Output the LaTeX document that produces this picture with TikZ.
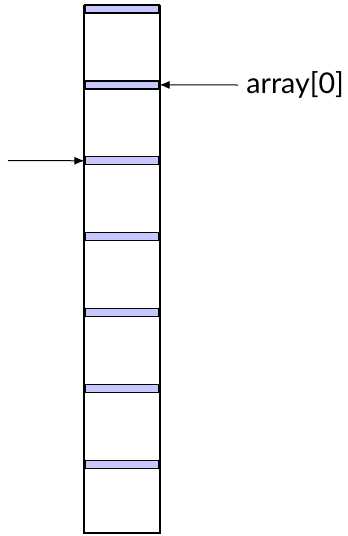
\documentclass[tikz,border=0pt]{standalone}
\usepackage{fontspec}
\setmainfont{Lato}
\usepackage{tikz}
\usetikzlibrary{arrows.meta, positioning}
\usepackage{xcolor}
\definecolor{hdrblue}{RGB}{200,200,255}

\begin{document}
\begin{tikzpicture}[x=0.5pt, y=-0.5pt,
    hdr/.style={draw=black, fill=hdrblue, line width=0.6pt, minimum width=37pt, minimum height=4pt, inner sep=0pt},
    ptr/.style={-{Latex[length=5pt, width=4pt]}, line width=0.5pt, black}]
  \useasboundingbox (0,0) rectangle (348,536);
  \foreach \i in {0,...,6} {
    \node[hdr] (h\i) at (122, 9+75.9*\i) {};
  }
  \draw[line width=1.3pt] (84,5) -- (84,533) -- (160,533) -- (160,5);
  \node[anchor=west, font=\fontsize{14.3}{16}\selectfont, inner sep=4pt] (lbl) at (238,85) {array[0]};
  \draw[ptr] (lbl.west) -- (h1.east);
  \coordinate (src) at (8,160.5);
  \draw[ptr] (src) -- (h2.west);
\end{tikzpicture}
\end{document}
